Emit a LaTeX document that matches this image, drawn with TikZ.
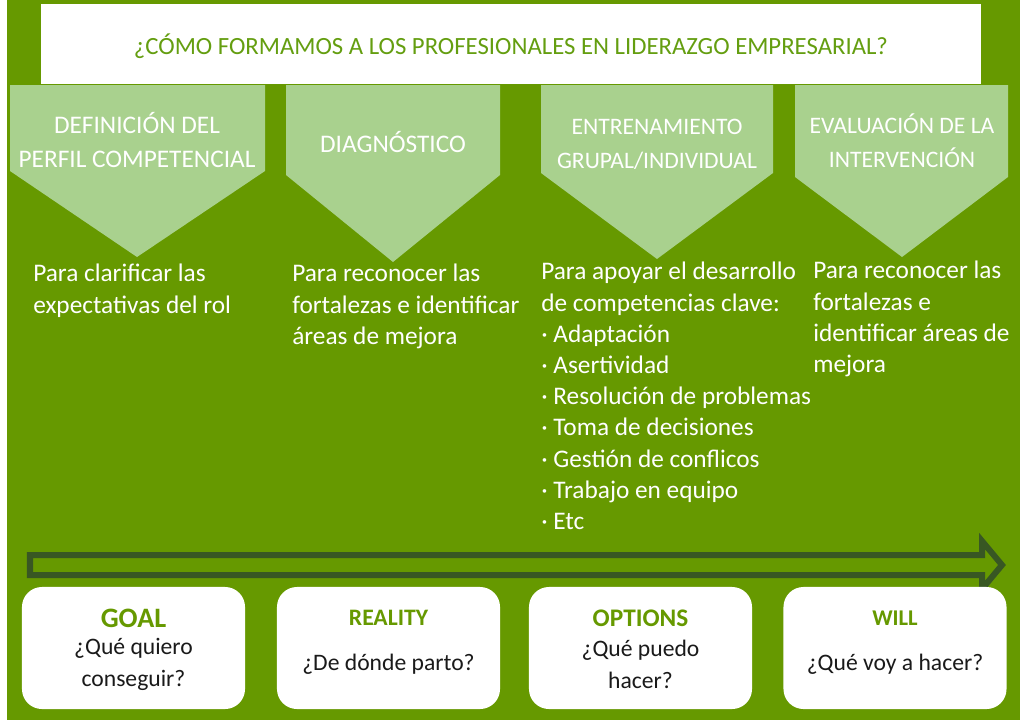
\documentclass[tikz,border=0pt]{standalone}
\usepackage{fontspec}
\setmainfont{Carlito}
\usepackage{tikz}
\usetikzlibrary{positioning, calc}
\definecolor{leafgreen}{RGB}{102,153,0}
\definecolor{paleleaf}{RGB}{169,209,142}
\definecolor{darkleaf}{RGB}{56,87,35}
\definecolor{titlegreen}{RGB}{100,158,16}
\definecolor{inkgray}{RGB}{26,26,26}

\begin{document}
\begin{tikzpicture}[
    x=0.025cm, y=-0.025cm,
    every node/.style={inner sep=0pt},
    phasetext/.style={text=white, align=center, font=\fontsize{18}{24}\selectfont},
    bodytext/.style={text=white, align=left, anchor=north west, font=\fontsize{18}{22.2}\selectfont},
    goalbox/.style={fill=white, rounded corners=0.5cm, minimum width=5.575cm, minimum height=3.05cm},
    boxhead/.style={text=leafgreen, font=\fontsize{16.8}{20}\selectfont\bfseries},
    boxtext/.style={text=inkgray, align=center, font=\fontsize{16.8}{22.7}\selectfont}
]

% background and frame
\useasboundingbox (0,0) rectangle (1024,723);
\fill[white] (0,0) rectangle (1024,723);
\fill[leafgreen] (7,0) rectangle (1020,720);

% title
\fill[white] (41,4) rectangle (981,84);
\node[text=titlegreen, font=\fontsize{17.6}{20}\selectfont] (titulo) at (511,46) {¿CÓMO FORMAMOS A LOS PROFESIONALES EN LIDERAZGO EMPRESARIAL?};

% phase chevrons
\fill[paleleaf] (10,85) -- (265,85) -- (265,171) -- (137,257) -- (10,171) -- cycle;
\fill[paleleaf] (286,85) -- (500,85) -- (500,175) -- (393,262) -- (286,175) -- cycle;
\fill[paleleaf] (541,85) -- (773,85) -- (773,173) -- (657,259) -- (541,173) -- cycle;
\fill[paleleaf] (795,85) -- (1008,85) -- (1008,177) -- (902,257) -- (795,177) -- cycle;

\node[phasetext] (perfil) at (137,140) {DEFINICIÓN DEL\\PERFIL COMPETENCIAL};
\node[phasetext] (diagnostico) at (393,142) {DIAGNÓSTICO};
\node[phasetext, font=\fontsize{16.8}{24}\selectfont] (entrenamiento) at (657,144) {ENTRENAMIENTO\\GRUPAL/INDIVIDUAL};
\node[phasetext, font=\fontsize{16.8}{24}\selectfont] (evaluacion) at (902,141) {EVALUACIÓN DE LA\\INTERVENCIÓN};

% descriptions
\node[bodytext] (perfiltxt) at (33,264) {Para clarificar las\\expectativas del rol};
\node[bodytext] (diagtxt) at (292,264) {Para reconocer las\\fortalezas e identificar\\áreas de mejora};
\node[bodytext] (entrtxt) at (541,262) {Para apoyar el desarrollo\\de competencias clave:\\· Adaptación\\· Asertividad\\· Resolución de problemas\\· Toma de decisiones\\· Gestión de conflicos\\· Trabajo en equipo\\· Etc};
\node[bodytext] (evaltxt) at (813,261) {Para reconocer las\\fortalezas e\\identificar áreas de\\mejora};

% timeline arrow
\draw[darkleaf, line width=0.15cm, fill=leafgreen] (30,555) -- (982,555) -- (982,541) -- (1002,565) -- (982,589) -- (982,575) -- (30,575) -- cycle;

% GROW boxes
\node[goalbox] (goal) at (133.5,648) {};
\node[goalbox] (reality) at (388.5,648) {};
\node[goalbox] (options) at (640.5,648) {};
\node[goalbox] (will) at (895,648) {};

\node[boxhead, font=\fontsize{20}{20}\selectfont\bfseries] at ($(goal.center)+(0,-30)$) {GOAL};
\node[boxhead] at ($(reality.center)+(0,-30)$) {REALITY};
\node[boxhead, font=\fontsize{18}{20}\selectfont\bfseries] at ($(options.center)+(0,-30)$) {OPTIONS};
\node[boxhead, font=\fontsize{16}{20}\selectfont\bfseries] at ($(will.center)+(0,-30)$) {WILL};

\node[boxtext] at ($(goal.center)+(0,16)$) {¿Qué quiero\\conseguir?};
\node[boxtext] at ($(reality.center)+(0,16)$) {¿De dónde parto?};
\node[boxtext] at ($(options.center)+(0,16)$) {¿Qué puedo\\hacer?};
\node[boxtext] at ($(will.center)+(0,16)$) {¿Qué voy a hacer?};

\end{tikzpicture}
\end{document}
